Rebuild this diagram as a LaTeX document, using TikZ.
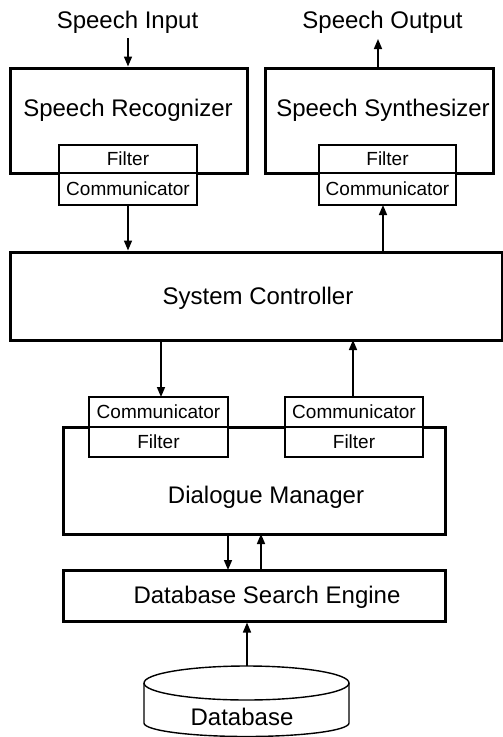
\documentclass[tikz,border=0pt]{standalone}
\usepackage{fontspec}
\setmainfont{Liberation Sans}
\usetikzlibrary{arrows.meta}
\begin{document}
\begin{tikzpicture}[x=1pt,y=-1pt,
  bigbox/.style={draw, line width=3pt, rectangle, inner sep=0pt, fill=white},
  subbox/.style={draw, line width=1.4pt, rectangle, inner sep=0pt, fill=white, minimum width=138pt, minimum height=30pt, font=\fontsize{19}{22}\selectfont},
  bigtext/.style={inner sep=0pt, font=\fontsize{24}{28}\selectfont},
  arr/.style={line width=1.6pt, -{Triangle[length=10pt,width=8pt]}}]
\useasboundingbox (0,0) rectangle (503,737);
% top boxes
\node[bigbox, minimum width=237pt, minimum height=105pt] (sr) at (128.5,120.5) {};
\node[bigtext] (srt) at (128,110) {Speech Recognizer};
\node[bigbox, minimum width=228pt, minimum height=105pt] (ss) at (379,120.5) {};
\node[bigtext] (sst) at (383,110) {Speech Synthesizer};
\node[subbox, minimum height=28pt] (f1) at (128,159) {Filter};
\node[subbox, minimum height=32pt] (c1) at (128,189) {Communicator};
\node[subbox, minimum width=137pt, minimum height=28pt] (f2) at (387.5,159) {Filter};
\node[subbox, minimum width=137pt, minimum height=32pt] (c2) at (387.5,189) {Communicator};
\node[bigtext] (si) at (127.5,22) {Speech Input};
\node[bigtext] (so) at (382.5,22) {Speech Output};
\coordinate (siend) at (128,38);
\coordinate (sostart) at (378,68);
\coordinate (soend) at (378,39);
% system controller
\node[bigbox, minimum width=492pt, minimum height=88pt] (sc) at (256,296) {};
\node[bigtext] (sct) at (258,298) {System Controller};
% dialogue manager
\node[bigbox, minimum width=382pt, minimum height=107pt] (dm) at (254,480.5) {};
\node[bigtext] (dmt) at (266,497) {Dialogue Manager};
\node[subbox, minimum width=139pt] (c3) at (158.5,412) {Communicator};
\node[subbox, minimum width=139pt] (f3) at (158.5,442) {Filter};
\node[subbox] (c4) at (354,412) {Communicator};
\node[subbox] (f4) at (354,442) {Filter};
% database search engine
\node[bigbox, minimum width=382pt, minimum height=51pt] (dse) at (254,595.5) {};
\node[bigtext] (dset) at (267,597) {Database Search Engine};
% database cylinder
\draw[line width=1.4pt, fill=white] (144,683) -- (144,723) arc[start angle=180, end angle=360, x radius=102.5pt, y radius=13.5pt] -- (349,683);
\draw[line width=1.4pt] (246.5,683) ellipse[x radius=102.5pt, y radius=17pt];
\node[bigtext] (db) at (242,717) {Database};
\coordinate (dbtop) at (247,666);
% arrows
\draw[arr] (siend) -- (siend |- sr.north);
\draw[arr] (sostart) -- (soend);
\draw[arr] (c1.south) -- (c1.south |- sc.north);
\draw[arr] (383,252) -- (383,205);
\draw[arr] (161,340) -- (161,397);
\draw[arr] (353,397) -- (353,340);
\draw[arr] (228,534) -- (228,570);
\draw[arr] (261,570) -- (261,534);
\draw[arr] (dbtop) -- (dbtop |- dse.south);
\end{tikzpicture}
\end{document}
